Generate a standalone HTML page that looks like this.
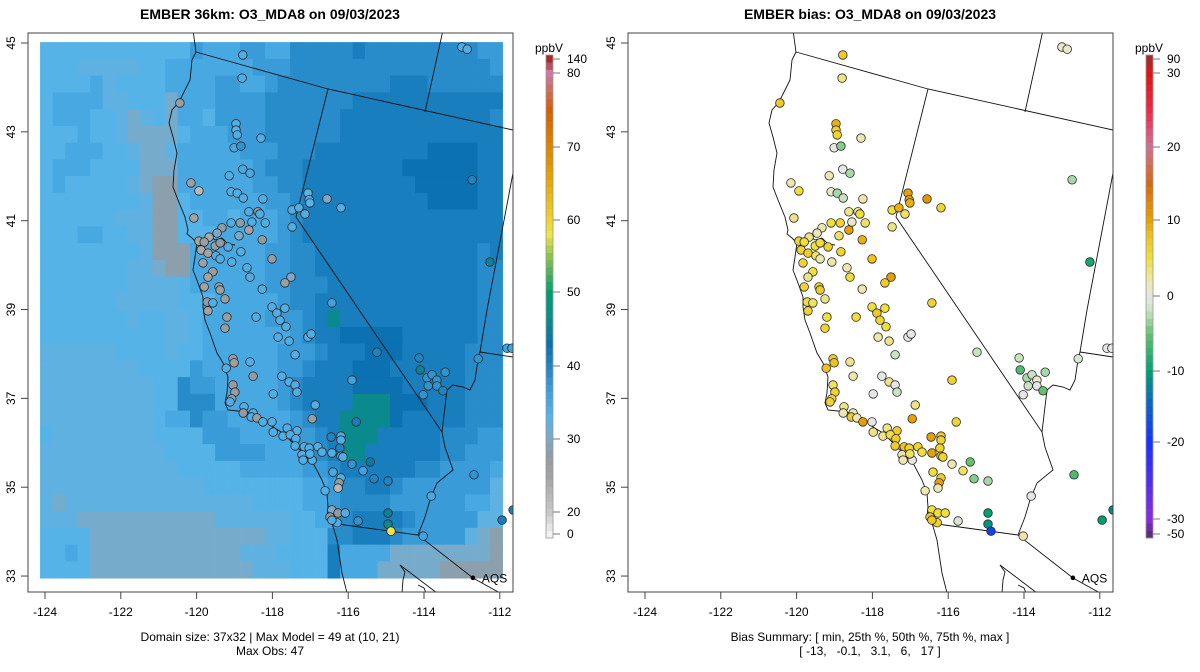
<!DOCTYPE html>
<html><head><meta charset="utf-8">
<style>
html,body{margin:0;padding:0;background:#fff;}
svg{display:block;font-family:"Liberation Sans",Arial,sans-serif;}
</style></head>
<body>
<svg id="chart" width="1200" height="672" viewBox="0 0 1200 672" xmlns="http://www.w3.org/2000/svg">
<defs>
<clipPath id="clipL"><rect x="28" y="33" width="485" height="559"/></clipPath>
<clipPath id="clipR"><rect x="628" y="33" width="485" height="559"/></clipPath>
<g id="geo">
<polyline fill="none" stroke="#111" stroke-width="0.9" points="193,30 196,52 192,60 190,80 185,90 179,102 172,110 169,123 173,137 177,153 174,170 173,187 178,200 185,217 188,230 187,234 192,238 197,243 195,257 193,270 198,283 203,297 203,307 205,320 210,333 217,353 223,363 228,377 227,393 225,403 228,410 247,412 263,418 273,427 283,433 293,443 303,453 313,463 322,480 327,493 328,507 327,517 332,523 337,540 340,560 342,573 347,593"/>
<polyline fill="none" stroke="#111" stroke-width="0.9" points="197,243 203,240 210,236 215,240 222,238 228,244 235,245"/>
<polyline fill="none" stroke="#111" stroke-width="0.9" points="196,52 328,89 513,130"/>
<polyline fill="none" stroke="#111" stroke-width="0.9" points="328,89 296,217 442,432 445,447 453,470 437,483 430,500 425,517 418,535"/>
<polyline fill="none" stroke="#111" stroke-width="0.9" points="330,523 418,535 473,578 500,593"/>
<polyline fill="none" stroke="#111" stroke-width="0.9" points="443,30 425,112"/>
<polyline fill="none" stroke="#111" stroke-width="0.9" points="513,173 487,310 480,352 478,360 475,380 470,390 463,387 453,385 447,390 442,432"/>
<polyline fill="none" stroke="#111" stroke-width="0.9" points="480,352 513,357"/>
<polyline fill="none" stroke="#111" stroke-width="0.9" points="400,565 405,572 403,580 402,593"/>
<polyline fill="none" stroke="#111" stroke-width="0.9" points="400,565 437,593"/>
<polyline fill="none" stroke="#111" stroke-width="0.9" points="418,585 424,588 426,593"/>
</g>
</defs>

<text x="270" y="19" text-anchor="middle" font-size="14" font-weight="bold">EMBER 36km: O3_MDA8 on 09/03/2023</text>
<text x="870" y="19" text-anchor="middle" font-size="14" font-weight="bold">EMBER bias: O3_MDA8 on 09/03/2023</text>

<g id="leftPanel">
  <g id="raster" clip-path="url(#clipL)"></g>
  <g clip-path="url(#clipL)"><use href="#geo"/></g>
  <g id="ptsL" clip-path="url(#clipL)"></g>
  <rect x="28" y="33" width="485" height="559" fill="none" stroke="#444" stroke-width="1"/>
  <g id="axL"></g>
  <text x="270" y="641" text-anchor="middle" font-size="12">Domain size: 37x32 | Max Model = 49 at (10, 21)</text>
  <text x="270" y="655" text-anchor="middle" font-size="12">Max Obs: 47</text>
  <g id="cbL"></g>
</g>

<g id="rightPanel">
  <g clip-path="url(#clipR)"><use href="#geo" transform="translate(600,0)"/></g>
  <g id="ptsR" clip-path="url(#clipR)"></g>
  <rect x="628" y="33" width="485" height="559" fill="none" stroke="#444" stroke-width="1"/>
  <g id="axR"></g>
  <text x="870" y="641" text-anchor="middle" font-size="12">Bias Summary: [ min, 25th %, 50th %, 75th %, max ]</text>
  <text x="870" y="655" text-anchor="middle" font-size="12" xml:space="preserve">[ -13,   -0.1,   3.1,   6,   17 ]</text>
  <g id="cbR"></g>
</g>
</svg>

<script>
// ---------- data ----------
const lonTicks = [-124, -122, -120, -118, -116, -114, -112];
const latTicks = [45, 43, 41, 39, 37, 35, 33];
const rasterCodes = {a:28.5, b:30.5, c:32.3, d:33.2, e:35, f:37, g:39, h:41, i:43, j:46};
const rasterRows = [
"ddddddddddddfeeeffeeggggghgggggggggff",
"dddcccccddeeeeeeefffggggggggggggggggf",
"ddddecddddeeeeffeefggggggggghhhgggggg",
"deeeeccdddbeeeffffggggggghhhhhhhhhhhh",
"deeeddcbcdbeedffffgggggghhhhhhhhhhhhg",
"dddeddcbbbbdeeefffgggggghhhhhhhhhhhhh",
"ddeeeddcbbceeeeefffggghhhhhhhhhiiiihh",
"deeeddddbbbeeeeeefggghhhhhhhhiiiiiihh",
"dedddddcbaaeeeeeeffgghhhhhhhhhiiiiihh",
"ddddddddcaadeeeeeeffghhhhhhhhhhiiiihh",
"ddddddcccaaddeedeeefghhhhhhhhhhhhhhhh",
"dddeeddccaadddeeeeefghhhhhhhhhhhhhhhh",
"ddddddddcaaaeeeeeeffgghhhhhhhhhhhhhgh",
"dddddddccbaaeeeeeeffgghhhhhhhhhhhhhgg",
"dddddddccccdeeeeeeffggghhhhhhhhhhhhgg",
"ddddddcccccdddeeeeefgghhhhhhhhhhhhhgg",
"dddddddcddccdeeeeefffghjhhhhhhhhhhhgg",
"ddddddddddccdeeeeeeefghhiiiiihhhhhhgg",
"ccccccddddcddeeeeeefffghhhiiihhhhhggg",
"ccccccccddddfeeeeeeffghhhiiihhhhhhggg",
"cccccccccddgffeeeeefghhhhiiiihhhhhggg",
"cccccccccddgggeeeeefghhhhjjjiiihhhggg",
"cccccccccdeegffeeeeefghhjjjjihhhhhggg",
"dccccccccddddfffeeeeffghjjjhhhhhgggff",
"ccccccccccddddffffeeefghjjhhhhhhggfff",
"cccccccccccdddddeeeeeffghhhhhhggffffe",
"cccccccccccccddddddddeefgghhgfffffffc",
"cbcccccccccccccccddddeefggggffffffeec",
"cccbbbbbbbbbbbccccccddeeghhhhgfffffcc",
"ddddbbbbbbbbbbbbbbccdddgghhhgfffffcba",
"ddedbbbbbbbbbbbbcccddddheeeebbbbbbbba",
"ddddbbbbbbbbbbbbbcccdddheeebbbbbaaaaa"
];
const rasterLon0 = -124.13, rasterDLon = 0.3298, rasterLat0 = 45.02, rasterDLat = 0.3771;

// observation sites
const siteLon = [-118.78,-118.80,-120.44,-118.96,-118.96,-118.93,-119.01,-118.83,-118.30,-118.78,-118.59,-119.14,-120.15,-119.94,-119.09,-118.93,-118.77,-118.25,-117.06,-117.03,-117.01,-116.56,-116.19,-117.48,-117.30,-117.14,-117.48,-113.00,-112.86,-112.73,-112.26,-120.07,-118.62,-118.38,-118.33,-119.09,-118.85,-118.54,-118.19,-119.33,-119.46,-119.67,-118.62,-118.88,-118.27,-119.94,-119.80,-119.88,-119.70,-119.51,-119.38,-119.17,-118.83,-119.49,-119.38,-119.83,-119.57,-119.70,-119.07,-118.01,-118.67,-118.59,-117.51,-117.67,-118.27,-119.80,-119.41,-119.38,-119.25,-116.43,-118.01,-117.67,-119.72,-119.57,-119.70,-119.20,-118.43,-117.88,-117.80,-117.64,-119.25,-117.85,-117.56,-117.06,-116.98,-117.40,-115.24,-119.04,-119.01,-119.22,-118.59,-118.51,-117.75,-117.56,-117.40,-117.35,-117.98,-119.04,-118.99,-119.07,-119.12,-118.75,-118.51,-118.77,-118.56,-118.41,-118.25,-118.01,-116.87,-116.95,-115.79,-117.61,-117.35,-117.98,-117.72,-117.53,-117.38,-117.40,-117.16,-117.03,-116.80,-116.69,-117.22,-117.19,-116.95,-117.01,-116.45,-116.19,-116.19,-116.22,-116.43,-116.19,-116.14,-115.90,-115.61,-115.42,-115.32,-114.95,-116.40,-116.19,-116.24,-116.27,-116.61,-115.90,-114.13,-114.10,-113.92,-113.79,-113.66,-113.89,-113.66,-113.44,-113.50,-114.02,-112.57,-111.81,-111.68,-112.68,-113.81,-116.43,-116.27,-116.08,-116.48,-116.29,-116.43,-115.74,-114.95,-114.95,-114.87,-114.02,-111.94,-111.65];
const siteLat = [44.73,44.21,43.65,43.18,43.04,42.93,42.64,42.68,42.86,42.16,42.07,42.01,41.85,41.67,41.65,41.62,41.51,41.49,41.62,41.47,41.40,41.49,41.29,41.24,41.29,41.15,40.86,44.91,44.86,41.92,40.07,41.06,41.20,41.20,41.15,40.95,40.95,40.97,40.95,40.84,40.72,40.63,40.79,40.66,40.57,40.54,40.52,40.34,40.27,40.43,40.50,40.41,40.30,40.21,40.14,40.05,39.85,39.73,40.07,40.14,39.94,39.73,39.73,39.60,39.46,39.51,39.51,39.44,39.24,39.15,39.06,39.03,39.17,39.15,38.97,38.83,38.83,38.92,38.76,38.61,38.58,38.38,38.29,38.38,38.45,37.98,38.04,37.89,37.80,37.68,37.82,37.50,37.50,37.37,37.30,37.14,37.10,37.30,37.14,36.99,36.92,36.81,36.67,36.67,36.58,36.56,36.47,36.47,36.85,36.54,36.47,36.33,36.27,36.24,36.15,36.18,36.09,35.93,35.91,35.88,35.91,35.79,35.73,35.61,35.61,35.75,36.13,36.15,36.06,35.88,35.77,35.70,35.68,35.52,35.37,35.57,35.19,35.14,35.34,35.21,35.10,34.98,34.92,37.41,37.91,37.64,37.46,37.53,37.41,37.28,37.28,37.59,37.17,37.08,37.89,38.13,38.13,35.28,34.80,34.49,34.42,34.42,34.33,34.20,34.26,34.24,34.42,34.17,34.01,33.90,34.26,34.49];
const siteObs = [34,34,26,34,33,34,35,38,34,35,35,34,26,22,34,34,34,34,33,33,33,30,34,34,34,34,34,34,34,40,45,25,34,28,34,34,28,34,34,28,30,24,25,30,28,25,26,24,25,27,28,34,34,34,34,26,27,25,34,27,34,34,30,26,34,25,27,26,27,36,34,34,28,34,25,27,34,34,34,34,27,34,34,34,34,34,40,27,26,34,34,28,34,34,34,34,34,27,27,28,34,34,34,28,34,27,34,34,34,27,41,34,34,34,34,34,34,34,34,34,34,34,34,34,34,34,40,34,34,40,34,34,34,38,36,44,40,40,35,34,28,22,34,36,40,45,38,38,38,38,38,38,40,38,38,36,36,38,35,30,28,34,28,34,34,38,45,46,58,36,41,41];
const siteBias = [7,3,7,9,6,6,0,-4,2,0,-3,2,2,5,1,-3,-2,2,10,10,9,11,6,5,9,4,3,1,1,-3,-9,3,3,2,5,5,6,1,4,2,2,3,10,4,9,6,5,6,7,5,5,6,6,4,2,6,5,3,2,8,2,5,10,7,2,6,7,7,3,6,5,5,5,4,6,5,5,7,6,5,6,2,3,0,0,-2,-2,7,8,8,3,2,0,3,0,-2,0,4,6,6,6,3,2,2,7,2,10,0,3,10,6,3,7,3,3,5,7,7,8,6,6,5,2,2,0,4,10,7,6,6,10,7,6,2,4,-5,-4,-3,5,7,10,2,2,6,-2,-6,-3,-2,1,-2,0,-3,-5,0,-1,0,0,-6,0,5,5,5,7,6,7,-1,-10,-11,-18,2,-10,-12];
const aqsLon = -112.71, aqsLat = 32.96;

// colour scales
const modelBreaks = [0,20,25,28,30,33,36,40,43,46,50,55,58,62,66,70,75,80,140];
const modelColors = ["#f2f2f2","#c8c8c8","#a3a3a3","#8f9ba5","#7ea9c6","#56b4e9","#41a3de","#1f84c4","#0c71b0","#0a8a8c","#009e73","#8cc64a","#f0e442","#ecc220","#e6a000","#df8500","#d55e00","#cc79a7","#a52a2a"];
const modelCbTicks = [0,20,30,40,50,60,70,80,140];
const biasBreaks = [-50,-30,-20,-14,-10,-5,-2,0,2,5,8,10,15,20,25,30,90];
const biasColors = ["#5e2a7e","#8a2be2","#1432ff","#0a6cbc","#00a070","#63c270","#c9e3c2","#e6e6e6","#ece7ae","#f0de3a","#eec020","#e8a000","#d66a10","#cf7090","#f02848","#e01414","#a52a2a"];
const biasCbTicks = [-50,-30,-20,-10,0,10,20,30,90];

// ---------- helpers ----------
const NS = "http://www.w3.org/2000/svg";
function X(lon, off) { return 45 + (lon + 124) * 37.9 + (off || 0); }
function Y(lat) { return 43 + (45 - lat) * 44.42; }
function hex2rgb(h){return [parseInt(h.slice(1,3),16),parseInt(h.slice(3,5),16),parseInt(h.slice(5,7),16)];}
function scaleColor(v, br, cols) {
  if (v <= br[0]) return cols[0];
  for (let k = 1; k < br.length; k++) {
    if (v <= br[k]) {
      const t = (v - br[k-1]) / (br[k] - br[k-1]);
      const a = hex2rgb(cols[k-1]), b = hex2rgb(cols[k]);
      return "rgb(" + a.map((c, n) => Math.round(c + (b[n] - c) * t)).join(",") + ")";
    }
  }
  return cols[cols.length-1];
}
function mk(tag, attrs, parent) {
  const e = document.createElementNS(NS, tag);
  for (const k in attrs) e.setAttribute(k, attrs[k]);
  parent.appendChild(e);
  return e;
}

// ---------- raster ----------
const rg = document.getElementById("raster");
rasterRows.forEach((row, j) => {
  for (let i = 0; i < 37; i++) {
    const ch = row[Math.min(i, row.length - 1)];
    const v = rasterCodes[ch];
    const x0 = X(rasterLon0 + i * rasterDLon), x1 = X(rasterLon0 + (i + 1) * rasterDLon);
    const y0 = Y(rasterLat0 - j * rasterDLat), y1 = Y(rasterLat0 - (j + 1) * rasterDLat);
    const r = mk("rect", {x: x0.toFixed(2), y: y0.toFixed(2), width: (x1 - x0 + 0.4).toFixed(2), height: (y1 - y0 + 0.4).toFixed(2), fill: scaleColor(v, modelBreaks, modelColors)}, rg);
    
    
  }
});

// ---------- points ----------
function drawPoints(gid, off, vals, br, cols, nm) {
  const g = document.getElementById(gid);
  for (let k = 0; k < siteLon.length; k++) {
    const c = mk("circle", {cx: X(siteLon[k], off).toFixed(1), cy: Y(siteLat[k]).toFixed(1), r: 4.3, fill: scaleColor(vals[k], br, cols), stroke: "#2a2a2a", "stroke-width": 0.8}, g);
    
    
  }
  const d = mk("circle", {cx: X(aqsLon, off), cy: Y(aqsLat), r: 2.3, fill: "#000"}, g);
  
  
  const t = mk("text", {x: X(aqsLon, off) + 9, y: Y(aqsLat) + 4.5, "font-size": 12}, g);
  t.textContent = "AQS";
  
  
}
drawPoints("ptsL", 0, siteObs, modelBreaks, modelColors, "obs-site-point");
drawPoints("ptsR", 600, siteBias, biasBreaks, biasColors, "bias-site-point");

// ---------- axes ----------
function drawAxes(gid, off) {
  const g = document.getElementById(gid);
  lonTicks.forEach(t => {
    const x = X(t, off);
    const l = mk("line", {x1: x, y1: 592, x2: x, y2: 599, stroke: "#444", "stroke-width": 1}, g);
    
    
    const tx = mk("text", {x: x, y: 616, "text-anchor": "middle", "font-size": 12}, g);
    tx.textContent = t;
    
    
  });
  latTicks.forEach(t => {
    const y = Y(t);
    const l = mk("line", {x1: 21 + off, y1: y, x2: 28 + off, y2: y, stroke: "#444", "stroke-width": 1}, g);
    
    
    const tx = mk("text", {x: 0, y: 0, "text-anchor": "middle", "font-size": 12, transform: "translate(" + (15 + off) + "," + y + ") rotate(-90)"}, g);
    tx.textContent = t;
    
    
  });
}
drawAxes("axL", 0);
drawAxes("axR", 600);

// ---------- colorbars ----------
const modelCbY = [534,512,439,366,292,220,147,73,59];
const biasCbY = [534,519,442,371,296,220,147,73,59];
function drawColorbar(gid, off, ticks, tickY, br, cols) {
  const g = document.getElementById(gid);
  const top = 55, bot = 538, n = 66, h = (bot - top) / n;
  for (let k = 0; k < n; k++) {
    const yc = bot - (k + 0.5) * h;
    let v = ticks[0];
    for (let m = 1; m < tickY.length; m++) {
      if (yc >= tickY[m] || m === tickY.length - 1) {
        const t = (tickY[m-1] - yc) / (tickY[m-1] - tickY[m]);
        v = ticks[m-1] + Math.min(1, Math.max(0, t)) * (ticks[m] - ticks[m-1]);
        break;
      }
    }
    const r = mk("rect", {x: 546 + off, y: (bot - (k + 1) * h).toFixed(2), width: 7, height: (h + 0.3).toFixed(2), fill: scaleColor(v, br, cols)}, g);
    
    
  }
  const b = mk("rect", {x: 546 + off, y: top, width: 7, height: bot - top, fill: "none", stroke: "#999", "stroke-width": 0.8}, g);
  
  
  ticks.forEach((t, k) => {
    const l = mk("line", {x1: 553 + off, y1: tickY[k], x2: 560 + off, y2: tickY[k], stroke: "#777", "stroke-width": 1}, g);
    
    
    const tx = mk("text", {x: 567 + off, y: tickY[k] + 4, "font-size": 12}, g);
    tx.textContent = t;
    
    
  });
  const u = mk("text", {x: 549 + off, y: 52, "text-anchor": "middle", "font-size": 12}, g);
  u.textContent = "ppbV";
  
  
}
drawColorbar("cbL", 0, modelCbTicks, modelCbY, modelBreaks, modelColors);
drawColorbar("cbR", 600, biasCbTicks, biasCbY, biasBreaks, biasColors);
</script>
</body></html>
